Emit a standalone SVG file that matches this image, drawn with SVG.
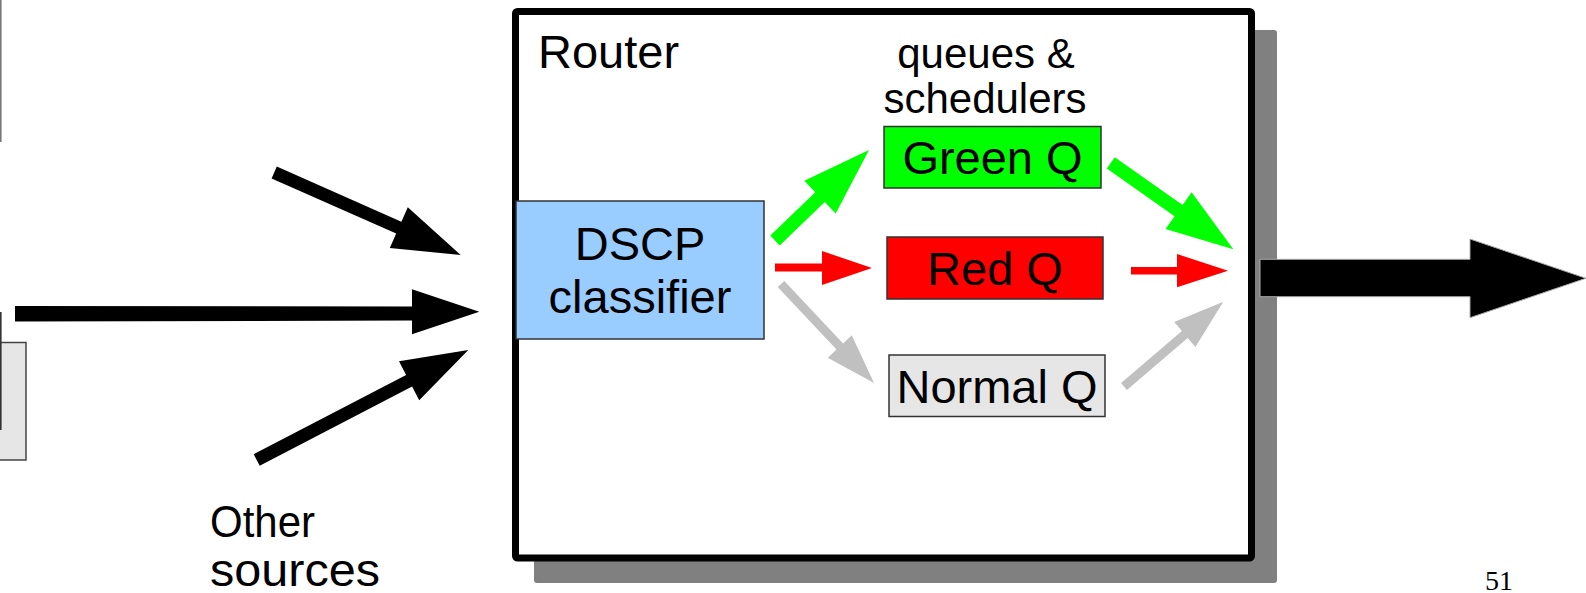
<svg xmlns="http://www.w3.org/2000/svg" width="1586" height="593" viewBox="0 0 1586 593">
  <style>
    .lbl { font-family: "Liberation Sans", Arial, sans-serif; fill: #000; }
    .big { font-size: 47px; }
    .mid { font-size: 42px; }
    .q { stroke: #333; stroke-width: 1.5; }
  </style>
  <rect width="1586" height="593" fill="#fff"/>

  <!-- neighbouring elements cut at the left edge -->
  <g id="edge-left">
    <line x1="0.8" y1="0" x2="0.8" y2="142" stroke="#777" stroke-width="1.6"/>
    <rect x="-2" y="342.5" width="28" height="117.5" fill="#e6e6e6" stroke="#444" stroke-width="1.5"/>
    <line x1="0.8" y1="312" x2="0.8" y2="430" stroke="#333" stroke-width="1.6"/>
  </g>

  <!-- router box with drop shadow -->
  <g id="router">
    <rect x="534" y="30" width="743" height="553" rx="3" fill="#808080"/>
    <rect x="515.5" y="11.5" width="736" height="546.5" rx="2" fill="#fff" stroke="#000" stroke-width="7"/>
    <text class="lbl big" x="538" y="68">Router</text>
    <text class="lbl mid" x="986" y="68" text-anchor="middle">queues &amp;</text>
    <text class="lbl mid" x="985" y="113" text-anchor="middle">schedulers</text>
  </g>

  <g id="classifier">
    <rect class="q" x="516" y="201" width="248" height="138" fill="#99ccff"/>
    <text class="lbl big" x="640" y="260" text-anchor="middle">DSCP</text>
    <text class="lbl big" x="640" y="313" text-anchor="middle">classifier</text>
  </g>

  <g id="green-q">
    <rect class="q" x="884" y="126.5" width="217" height="61.5" fill="#00ff00"/>
    <text class="lbl big" x="992.5" y="174" text-anchor="middle">Green Q</text>
  </g>

  <g id="red-q">
    <rect class="q" x="887" y="237" width="216" height="62" fill="#ff0000"/>
    <text class="lbl big" x="995" y="285" text-anchor="middle">Red Q</text>
  </g>

  <g id="normal-q">
    <rect class="q" x="889" y="355" width="216" height="61.5" fill="#e6e6e6"/>
    <text class="lbl big" x="997" y="403" text-anchor="middle">Normal Q</text>
  </g>

  <g id="other-sources">
    <text class="lbl" font-size="44" x="210" y="536.5" textLength="105" lengthAdjust="spacingAndGlyphs">Other</text>
    <text class="lbl" font-size="46" x="210" y="586" textLength="170" lengthAdjust="spacingAndGlyphs">sources</text>
  </g>

  <g id="connectors">
    <!-- incoming traffic -->
    <polygon fill="#000" points="271.6,178.4 276.8,166.6 401.4,221.7 407.8,207.2 460.7,255 389.8,248 396.2,233.5"/>
    <polygon fill="#000" points="15,306 412,306.5 412,289.3 479.3,311.7 412,334.3 412,320.5 15,321.5"/>
    <polygon fill="#000" points="253.7,454.2 406.1,374.9 399,361.2 468.3,350 419.2,400.2 412.1,386.5 259.7,465.8"/>

    <!-- classifier to queues -->
    <polygon fill="#00ff00" points="770.3,235.6 815.3,192.2 804.3,180.8 869,150 835.7,213.4 824.7,202 779.7,245.4"/>
    <polygon fill="#ff0000" points="775,263.5 822,263.5 822,251 872,268 822,285 822,271.5 775,271.5"/>
    <polygon fill="#c0c0c0" points="777.7,287.1 784.3,280.9 843.1,343.4 851.8,335.2 874,383 827.8,357.8 836.5,349.6"/>

    <!-- queues to output -->
    <polygon fill="#00ff00" points="1106.8,168.4 1114.8,157.2 1182.6,205 1191.6,192.2 1233.3,249.3 1165.6,229 1174.6,216.2"/>
    <polygon fill="#ff0000" points="1131,267 1177,267 1177,254 1228,270.7 1177,287.3 1177,274.5 1131,274.5"/>
    <polygon fill="#c0c0c0" points="1121.1,383.1 1181.9,331.1 1174.2,322.1 1223.3,301.7 1195.4,346.9 1187.7,337.9 1126.9,389.9"/>

    <!-- outgoing traffic -->
    <polygon fill="#000" stroke="#aaa" stroke-width="1" points="1260,259.3 1470,259.3 1470,239 1586,278.3 1470,317.7 1470,296.7 1260,296.7"/>
  </g>

  <text id="page-number" x="1485" y="590" font-family="Liberation Serif, 'Times New Roman', serif" font-size="28" fill="#000">51</text>
</svg>
